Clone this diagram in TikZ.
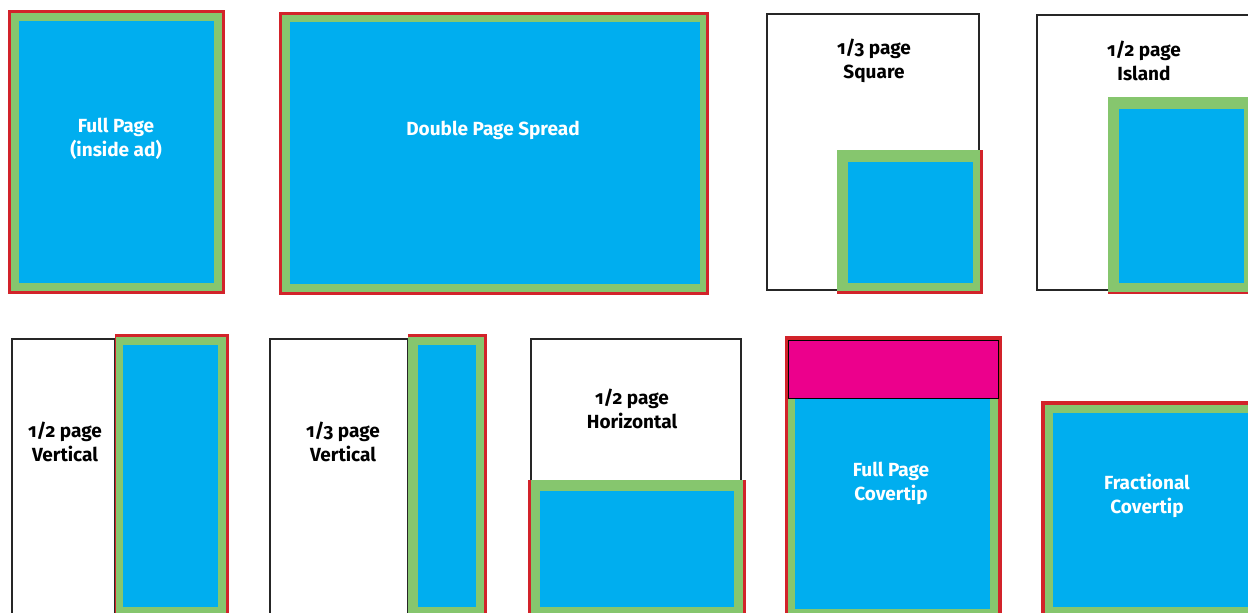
\documentclass[tikz,border=0pt]{standalone}
\usepackage{fontspec}
\setmainfont{Fira Sans}[Numbers=OldStyle]
\definecolor{adblue}{HTML}{00AEEF}
\definecolor{adgreen}{HTML}{86C66E}
\definecolor{adred}{HTML}{D2232A}
\definecolor{admag}{HTML}{EC008C}
\tikzset{
  page/.style={draw=black!85, line width=1.3pt, fill=white},
  bleed/.style={fill=adred},
  trim/.style={fill=adgreen},
  live/.style={fill=adblue},
  lbl/.style={font=\bfseries\fontsize{19}{24}\selectfont, align=center, inner sep=0pt},
  wlbl/.style={lbl, text=white},
}
\begin{document}
\begin{tikzpicture}[x=1pt,y=-1pt]
\useasboundingbox (0,0) rectangle (1248,613);
\clip (0,0) rectangle (1248,613);
% Full page
\fill[bleed] (8,10) rectangle (225,294);
\fill[trim] (11,13) rectangle (222,291);
\fill[live] (19,21) rectangle (214,283);
\node[wlbl] (fp) at (116,139) {Full Page\\(inside ad)};
% Double page spread
\fill[bleed] (279,12) rectangle (709,295);
\fill[trim] (282,15) rectangle (706,292);
\fill[live] (290,22) rectangle (700,284);
\node[wlbl] (dps) at (493,130) {Double Page Spread};
% 1/3 square
\draw[page] (767,14) rectangle (979,290);
\fill[bleed] (837,150) rectangle (983,294);
\fill[trim] (837,150) rectangle (980,291);
\fill[live] (848,162) rectangle (973,283);
\node[lbl] (sq) at (874,61) {1/3 page\\Square};
% 1/2 island
\draw[page] (1037,15) rectangle (1260,290);
\fill[bleed] (1108,97) rectangle (1260,294);
\fill[trim] (1108,97) rectangle (1260,292);
\fill[live] (1119,109) rectangle (1244,283);
\node[lbl] (isl) at (1144,61) {1/2 page\\Island};
% 1/2 vertical
\draw[page] (12,339) rectangle (115,620);
\fill[bleed] (115,334) rectangle (229,620);
\fill[trim] (116,337) rectangle (226,620);
\fill[live] (123,345) rectangle (218,607);
\node[lbl] (hv) at (65,442) {1/2 page\\Vertical};
% 1/3 vertical
\draw[page] (270,339) rectangle (408,620);
\fill[bleed] (408,334) rectangle (487,620);
\fill[trim] (408,337) rectangle (484,620);
\fill[live] (418,345) rectangle (476,607);
\node[lbl] (tv) at (343,442) {1/3 page\\Vertical};
% 1/2 horizontal
\draw[page] (531,339) rectangle (741,482);
\fill[bleed] (528,480) rectangle (746,620);
\fill[trim] (531,480) rectangle (743,620);
\fill[live] (540,491) rectangle (734,607);
\node[lbl] (hh) at (632,409) {1/2 page\\Horizontal};
% Full page covertip
\fill[bleed] (785,336) rectangle (1002,620);
\fill[trim] (788,340) rectangle (998,620);
\fill[live] (795,398) rectangle (990,609);
\draw[fill=admag, draw=black, line width=0.8pt] (788,340) rectangle (998,398);
\node[wlbl] (fpc) at (891,483) {Full Page\\Covertip};
% Fractional covertip
\fill[bleed] (1041,401) rectangle (1260,620);
\fill[trim] (1045,405) rectangle (1260,620);
\fill[live] (1053,413) rectangle (1260,607);
\node[wlbl] (fc) at (1147,496) {Fractional\\Covertip};
\end{tikzpicture}
\end{document}
